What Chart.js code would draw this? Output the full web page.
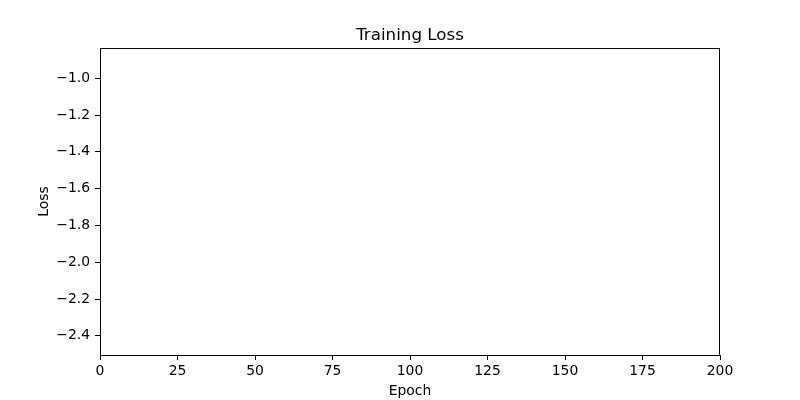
<!DOCTYPE html>
<html>
<head>
<meta charset="utf-8">
<script src="https://cdn.jsdelivr.net/npm/chart.js@4/dist/chart.umd.min.js"></script>
<style>
  html, body { margin: 0; padding: 0; background: #fff; }
  #wrap { width: 800px; height: 400px; }
</style>
</head>
<body>
<div id="wrap"><canvas id="loss_chart"></canvas></div>
<script>
// the reference axes show no line: no loss points were drawn
const epochs = [];
const lossValues = [];
const xTicks = [0, 25, 50, 75, 100, 125, 150, 175, 200];
const yTicks = [-2.4, -2.2, -2.0, -1.8, -1.6, -1.4, -1.2, -1.0];

const xMin = 0, xMax = 200;
const yMin = -2.504, yMax = -0.836;

const fontFamily = "'DejaVu Sans', sans-serif";

// draw the full box around the plot area like matplotlib
const frame = {
    id: 'frame',
    afterDraw(chart) {
        const { ctx, chartArea: a } = chart;
        ctx.save();
        ctx.strokeStyle = '#000';
        ctx.lineWidth = 1;
        ctx.strokeRect(a.left + 0.5, a.top + 0.5, a.right - a.left - 1, a.bottom - a.top);
        ctx.restore();
    }
};

const ctx = document.getElementById("loss_chart").getContext("2d");
const lossChart = new Chart(ctx, {
    type: 'line',
    data: {
        datasets: [{
            label: 'Loss',
            data: epochs.map((e, i) => ({ x: e, y: lossValues[i] })),
            borderColor: '#1f77b4',
            borderWidth: 1.5,
            pointRadius: 0
        }]
    },
    options: {
        responsive: true,
        maintainAspectRatio: false,
        animation: false,
        layout: { padding: { left: 0, right: 80, top: 0, bottom: 0 } },
        plugins: {
            legend: { display: false },
            tooltip: { enabled: false },
            title: {
                display: true,
                text: 'Training Loss',
                color: '#000',
                fullSize: false,
                font: { family: fontFamily, size: 16.7, weight: 'normal' },
                padding: { top: 26, bottom: 2 }
            }
        },
        scales: {
            x: {
                type: 'linear',
                min: xMin,
                max: xMax,
                afterFit: (scale) => { scale.height = 45; },
                afterBuildTicks: (scale) => { scale.ticks = xTicks.map(v => ({ value: v })); },
                border: { display: true, color: '#000', width: 1 },
                grid: { drawOnChartArea: false, drawTicks: true, tickLength: 5, color: '#000' },
                ticks: {
                    color: '#000',
                    padding: 3,
                    maxRotation: 0,
                    font: { family: fontFamily, size: 13.9 },
                    callback: (v) => String(v)
                },
                title: {
                    display: true,
                    text: 'Epoch',
                    color: '#000',
                    font: { family: fontFamily, size: 13.9 },
                    padding: { top: 0, bottom: 0 }
                }
            },
            y: {
                type: 'linear',
                min: yMin,
                max: yMax,
                afterFit: (scale) => { scale.width = 100; },
                afterBuildTicks: (scale) => { scale.ticks = yTicks.map(v => ({ value: v })); },
                border: { display: true, color: '#000', width: 1 },
                grid: { drawOnChartArea: false, drawTicks: true, tickLength: 5, color: '#000' },
                ticks: {
                    color: '#000',
                    padding: 5,
                    font: { family: fontFamily, size: 13.9 },
                    callback: (v) => v.toFixed(1).replace('-', '\u2212')
                },
                title: {
                    display: true,
                    text: 'Loss',
                    color: '#000',
                    font: { family: fontFamily, size: 13.9 },
                    padding: { top: 36, bottom: 0 }
                }
            }
        }
    },
    plugins: [frame]
});
</script>
</body>
</html>
